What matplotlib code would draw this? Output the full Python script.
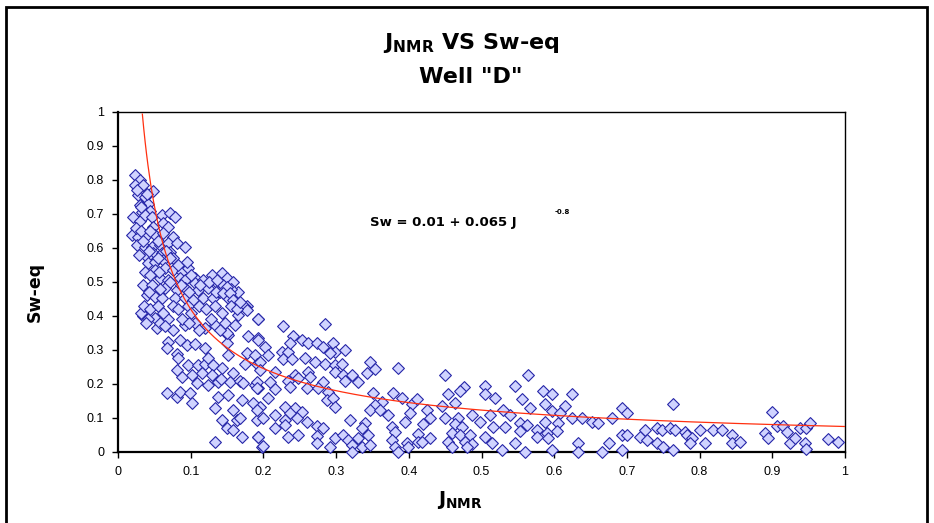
import numpy as np
import matplotlib.pyplot as plt
from matplotlib.patches import Rectangle

plt.rcParams['font.family'] = ['Liberation Sans', 'DejaVu Sans']
plt.rcParams['mathtext.fontset'] = 'custom'
plt.rcParams['mathtext.rm'] = 'DejaVu Sans:bold'
plt.rcParams['mathtext.it'] = 'DejaVu Sans:bold'
plt.rcParams['mathtext.bf'] = 'DejaVu Sans:bold'

# J_NMR, Sw-eq pairs, grouped by region of the crossplot
upper_pts = [
    (0.023, 0.815), (0.030, 0.800), (0.023, 0.785), (0.034, 0.785), (0.048, 0.768),
    (0.028, 0.756), (0.037, 0.750), (0.041, 0.730), (0.030, 0.726), (0.044, 0.710),
    (0.033, 0.706), (0.021, 0.690), (0.030, 0.680), (0.037, 0.697), (0.047, 0.690),
    (0.061, 0.697), (0.072, 0.703), (0.078, 0.690), (0.048, 0.662), (0.062, 0.674),
    (0.069, 0.662), (0.019, 0.638), (0.028, 0.632), (0.040, 0.638), (0.051, 0.638),
    (0.062, 0.644), (0.076, 0.632), (0.026, 0.609), (0.037, 0.603), (0.047, 0.603),
    (0.058, 0.609), (0.069, 0.615), (0.081, 0.615), (0.092, 0.603), (0.048, 0.585),
    (0.040, 0.574), (0.061, 0.585), (0.072, 0.588), (0.041, 0.556), (0.051, 0.559),
    (0.062, 0.565), (0.076, 0.571), (0.037, 0.530), (0.051, 0.535), (0.065, 0.541),
    (0.076, 0.535), (0.088, 0.530), (0.096, 0.541), (0.058, 0.512), (0.069, 0.506),
    (0.085, 0.512), (0.092, 0.506), (0.106, 0.512), (0.034, 0.491), (0.047, 0.491),
    (0.065, 0.482), (0.081, 0.476), (0.092, 0.482), (0.106, 0.497), (0.117, 0.506),
    (0.129, 0.520), (0.143, 0.526), (0.150, 0.512), (0.158, 0.500), (0.165, 0.470),
    (0.136, 0.497), (0.110, 0.476), (0.124, 0.482), (0.140, 0.470), (0.040, 0.462),
    (0.051, 0.456), (0.061, 0.453), (0.078, 0.453), (0.092, 0.453), (0.103, 0.447),
    (0.117, 0.453), (0.131, 0.453), (0.151, 0.453), (0.025, 0.660), (0.032, 0.650),
    (0.044, 0.650), (0.055, 0.620), (0.029, 0.580), (0.035, 0.620), (0.043, 0.590),
    (0.055, 0.570), (0.066, 0.590), (0.071, 0.570), (0.057, 0.530), (0.044, 0.520),
    (0.083, 0.550), (0.095, 0.560), (0.100, 0.520), (0.086, 0.490), (0.097, 0.470),
    (0.072, 0.500), (0.058, 0.480), (0.043, 0.470), (0.113, 0.490), (0.125, 0.500),
    (0.145, 0.490), (0.135, 0.470), (0.155, 0.480), (0.032, 0.720), (0.026, 0.770),
    (0.040, 0.760), (0.136, 0.506), (0.150, 0.485), (0.144, 0.468), (0.154, 0.468),
    (0.158, 0.447),
]

band_pts = [
    (0.034, 0.400), (0.051, 0.395), (0.054, 0.365), (0.041, 0.390), (0.069, 0.390),
    (0.076, 0.360), (0.092, 0.375), (0.106, 0.380), (0.120, 0.365), (0.133, 0.375),
    (0.147, 0.380), (0.161, 0.375), (0.177, 0.430), (0.193, 0.390), (0.151, 0.345),
    (0.150, 0.320), (0.179, 0.340), (0.193, 0.335), (0.069, 0.325), (0.067, 0.305),
    (0.085, 0.330), (0.095, 0.315), (0.106, 0.317), (0.120, 0.305), (0.081, 0.288),
    (0.083, 0.276), (0.151, 0.285), (0.177, 0.290), (0.188, 0.285), (0.096, 0.256),
    (0.110, 0.256), (0.120, 0.260), (0.124, 0.276), (0.131, 0.256), (0.143, 0.247),
    (0.175, 0.260), (0.191, 0.260), (0.081, 0.240), (0.088, 0.220), (0.102, 0.226),
    (0.116, 0.232), (0.129, 0.226), (0.138, 0.205), (0.158, 0.232), (0.154, 0.205),
    (0.168, 0.210), (0.172, 0.203), (0.109, 0.203), (0.124, 0.197), (0.142, 0.214),
    (0.188, 0.197), (0.193, 0.188), (0.067, 0.174), (0.081, 0.162), (0.085, 0.176),
    (0.099, 0.174), (0.138, 0.162), (0.151, 0.168), (0.171, 0.153), (0.186, 0.144),
    (0.102, 0.144), (0.133, 0.129), (0.158, 0.124), (0.143, 0.094), (0.164, 0.094),
    (0.168, 0.100), (0.191, 0.094), (0.150, 0.070), (0.158, 0.065), (0.171, 0.044),
    (0.193, 0.044), (0.133, 0.030), (0.198, 0.015), (0.175, 0.426), (0.177, 0.418),
    (0.165, 0.403), (0.150, 0.350), (0.031, 0.410), (0.036, 0.430), (0.044, 0.420),
    (0.055, 0.430), (0.062, 0.410), (0.075, 0.430), (0.083, 0.420), (0.096, 0.430),
    (0.101, 0.410), (0.112, 0.430), (0.121, 0.420), (0.134, 0.430), (0.143, 0.410),
    (0.155, 0.430), (0.164, 0.420), (0.168, 0.440), (0.038, 0.380), (0.058, 0.380),
    (0.064, 0.370), (0.088, 0.390), (0.098, 0.380), (0.112, 0.360), (0.128, 0.390),
    (0.140, 0.360),
]

mid_pts = [
    (0.193, 0.390), (0.227, 0.370), (0.285, 0.377), (0.241, 0.340), (0.253, 0.330),
    (0.261, 0.320), (0.274, 0.320), (0.282, 0.310), (0.296, 0.320), (0.298, 0.295),
    (0.312, 0.300), (0.292, 0.290), (0.193, 0.330), (0.202, 0.310), (0.226, 0.295),
    (0.234, 0.295), (0.237, 0.320), (0.206, 0.285), (0.227, 0.274), (0.239, 0.274),
    (0.195, 0.265), (0.257, 0.276), (0.271, 0.265), (0.285, 0.260), (0.298, 0.255),
    (0.308, 0.260), (0.347, 0.265), (0.385, 0.247), (0.195, 0.240), (0.216, 0.235),
    (0.243, 0.226), (0.261, 0.235), (0.264, 0.220), (0.298, 0.235), (0.310, 0.226),
    (0.322, 0.226), (0.330, 0.205), (0.342, 0.232), (0.353, 0.244), (0.191, 0.205),
    (0.209, 0.205), (0.234, 0.210), (0.248, 0.218), (0.282, 0.205), (0.312, 0.210),
    (0.191, 0.188), (0.216, 0.185), (0.237, 0.190), (0.260, 0.188), (0.275, 0.188),
    (0.289, 0.176), (0.351, 0.174), (0.378, 0.174), (0.391, 0.160), (0.404, 0.140),
    (0.363, 0.147), (0.353, 0.138), (0.206, 0.160), (0.287, 0.153), (0.296, 0.160),
    (0.298, 0.132), (0.195, 0.132), (0.347, 0.124), (0.360, 0.124), (0.371, 0.109),
    (0.230, 0.132), (0.243, 0.130), (0.237, 0.115), (0.253, 0.118), (0.191, 0.124),
    (0.200, 0.100), (0.216, 0.109), (0.230, 0.094), (0.246, 0.100), (0.260, 0.088),
    (0.319, 0.094), (0.340, 0.085), (0.395, 0.088), (0.402, 0.115), (0.216, 0.070),
    (0.230, 0.079), (0.274, 0.076), (0.282, 0.070), (0.336, 0.070), (0.377, 0.073),
    (0.381, 0.059), (0.193, 0.044), (0.234, 0.044), (0.248, 0.050), (0.274, 0.047),
    (0.298, 0.041), (0.309, 0.050), (0.316, 0.035), (0.330, 0.041), (0.344, 0.050),
    (0.377, 0.035), (0.398, 0.026), (0.200, 0.018), (0.274, 0.026), (0.292, 0.015),
    (0.322, 0.020), (0.336, 0.015), (0.347, 0.020), (0.381, 0.015), (0.322, 0.000),
    (0.385, 0.000),
]

tail_pts = [
    (0.450, 0.226), (0.564, 0.226), (0.476, 0.190), (0.505, 0.195), (0.546, 0.195),
    (0.454, 0.170), (0.505, 0.170), (0.519, 0.160), (0.470, 0.180), (0.585, 0.180),
    (0.597, 0.170), (0.624, 0.170), (0.556, 0.155), (0.464, 0.145), (0.411, 0.155),
    (0.446, 0.135), (0.425, 0.125), (0.587, 0.140), (0.615, 0.135), (0.567, 0.130),
    (0.450, 0.100), (0.468, 0.100), (0.487, 0.110), (0.512, 0.110), (0.530, 0.125),
    (0.539, 0.110), (0.597, 0.120), (0.608, 0.115), (0.624, 0.100), (0.638, 0.100),
    (0.652, 0.088), (0.429, 0.100), (0.420, 0.082), (0.464, 0.082), (0.498, 0.088),
    (0.516, 0.073), (0.532, 0.073), (0.553, 0.085), (0.562, 0.080), (0.587, 0.088),
    (0.605, 0.085), (0.473, 0.073), (0.553, 0.062), (0.576, 0.065), (0.590, 0.056),
    (0.604, 0.062), (0.413, 0.053), (0.429, 0.040), (0.459, 0.056), (0.470, 0.050),
    (0.484, 0.050), (0.505, 0.044), (0.576, 0.044), (0.591, 0.040), (0.633, 0.026),
    (0.413, 0.030), (0.418, 0.030), (0.454, 0.030), (0.477, 0.030), (0.487, 0.024),
    (0.514, 0.026), (0.546, 0.026), (0.399, 0.015), (0.460, 0.015), (0.480, 0.015),
    (0.528, 0.006), (0.560, 0.000), (0.597, 0.006), (0.633, 0.000),
    (0.660, 0.085), (0.680, 0.100), (0.693, 0.130), (0.700, 0.115), (0.693, 0.050),
    (0.700, 0.050), (0.675, 0.026), (0.693, 0.006), (0.666, 0.000), (0.718, 0.045),
    (0.725, 0.065), (0.727, 0.035), (0.741, 0.070), (0.748, 0.065), (0.741, 0.026),
    (0.750, 0.015), (0.763, 0.140), (0.759, 0.070), (0.766, 0.065), (0.763, 0.006),
    (0.780, 0.060), (0.783, 0.050), (0.790, 0.040), (0.787, 0.026), (0.800, 0.065),
    (0.807, 0.026), (0.818, 0.065), (0.831, 0.065), (0.845, 0.050), (0.845, 0.026),
    (0.856, 0.030), (0.890, 0.055), (0.894, 0.040), (0.900, 0.118), (0.906, 0.076),
    (0.915, 0.076), (0.920, 0.060), (0.924, 0.026), (0.931, 0.040), (0.938, 0.070),
    (0.947, 0.070), (0.952, 0.085), (0.945, 0.026), (0.947, 0.009), (0.977, 0.038),
    (0.990, 0.030),
]

# power-law fit Sw = a + b * J^c
fit_a, fit_b, fit_c = 0.01, 0.065, -0.8

tick_vals = np.round(np.arange(0, 1.01, 0.1), 1)
tick_labels = ['0', '0.1', '0.2', '0.3', '0.4', '0.5', '0.6', '0.7', '0.8', '0.9', '1']

W, H = 934, 523
fig = plt.figure(figsize=(W / 100, H / 100), dpi=100)

# chart area border
fig.patches.append(Rectangle((6 / W, -0.05), 921 / W, 1.05 - 7 / H,
                             transform=fig.transFigure, fill=False,
                             edgecolor='black', linewidth=2))

ax = fig.add_axes([118 / W, 1 - 452 / H, 727 / W, 340 / H])

pts = np.array(upper_pts + band_pts + mid_pts + tail_pts)
ax.scatter(pts[:, 0], pts[:, 1], marker='D', s=36, facecolor='#d0d3ff',
           edgecolor='#2626a8', linewidth=0.8, zorder=3, clip_on=False)

j = np.linspace(0.0335, 1.0, 500)
ax.plot(j, fit_a + fit_b * j ** fit_c, color='#ff3010', linewidth=0.9, zorder=4)

ax.set_xlim(0, 1)
ax.set_ylim(0, 1)
ax.set_xticks(tick_vals)
ax.set_xticklabels(tick_labels)
ax.set_yticks(tick_vals)
ax.set_yticklabels(tick_labels)
ax.tick_params(direction='out', length=4, width=1, labelsize=9, pad=6)
for side in ['left', 'bottom']:
    ax.spines[side].set_linewidth(1.6)
for side in ['top', 'right']:
    ax.spines[side].set_linewidth(1.0)

bold_wide = dict(family=['DejaVu Sans'], fontweight='bold')
ax.text(0.347, 0.676, 'Sw = 0.01 + 0.065 J', fontsize=9.5, va='center', ha='left',
        **bold_wide)
ax.text(0.600, 0.706, '-0.8', fontsize=5, va='center', ha='left', **bold_wide)

fig.text(0.504, 1 - 43 / H, r'$\mathbf{J}_{\mathbf{NMR}}$ VS Sw-eq', fontsize=16,
         ha='center', va='center', **bold_wide)
fig.text(0.504, 1 - 77 / H, 'Well "D"', fontsize=16, ha='center', va='center',
         **bold_wide)
fig.text(460 / W, 1 - 500 / H, r'$\mathbf{J}_{\mathbf{NMR}}$', fontsize=14,
         ha='center', va='center')
fig.text(35 / W, 1 - 292 / H, 'Sw-eq', fontsize=12.5, rotation=90,
         ha='center', va='center', **bold_wide)

fig.savefig('out.png', dpi=100)
